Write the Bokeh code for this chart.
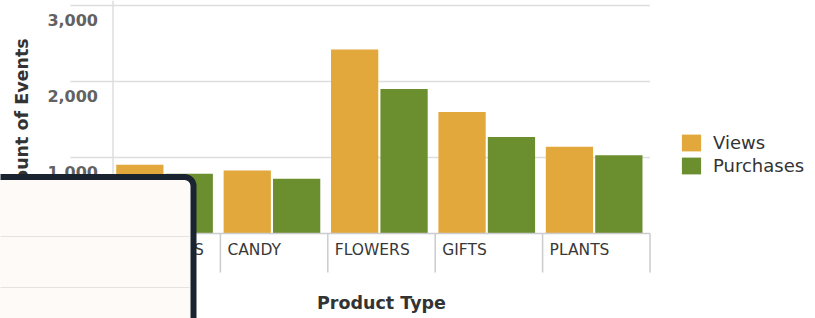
import numpy as np
from bokeh.plotting import figure
from bokeh.models import Range1d, BoxAnnotation, Legend, LegendItem
from bokeh.core.properties import value
from bokeh.embed import file_html
from bokeh.resources import INLINE

# ---- data ----
categories = ["BALLOONS", "CANDY", "FLOWERS", "GIFTS", "PLANTS"]
views = [905, 830, 2420, 1600, 1140]
purchases = [785, 720, 1900, 1270, 1030]
series_names = ["Views", "Purchases"]
y_ticks = [1000, 2000, 3000]
y_tick_labels = ["1,000", "2,000", "3,000"]
x_title = "Product Type"
y_title = "Count of Events"

# ---- layout calibration (pixels) ----
W, H = 815, 318
X0_PX, CAT_PX = 112.5, 107.4      # left edge of first category, width of one category
Y0_PX, PX_PER_UNIT = 233.0, 0.076  # baseline pixel, pixels per count
GRID_LEFT_PX, SEP_TICK_PX = 70.0, 39.0

ORANGE, GREEN = "#E2A83B", "#6B8E2F"
GRID, AXIS = "#dedede", "#cbcbd0"

x_range = Range1d(-X0_PX / CAT_PX, (W - X0_PX) / CAT_PX)
y_range = Range1d((Y0_PX - H) / PX_PER_UNIT, Y0_PX / PX_PER_UNIT)

p = figure(width=W, height=H, x_range=x_range, y_range=y_range,
           output_backend="svg", toolbar_location=None,
           x_axis_location=None, y_axis_location=None,
           min_border=0, outline_line_color=None)
p.grid.visible = False
p.background_fill_color = "white"
p.border_fill_color = "white"

idx = np.arange(len(categories))
n = len(categories)
grid_left = (GRID_LEFT_PX - X0_PX) / CAT_PX

# gridlines
p.segment(x0=[grid_left] * len(y_ticks), x1=[n] * len(y_ticks), y0=y_ticks, y1=y_ticks,
          line_color=GRID, line_width=1.5)
# y axis line
p.segment(x0=[0], x1=[0], y0=[0], y1=[y_range.end], line_color=GRID, line_width=1.5)

# bars
r_v = p.vbar(x=idx + 0.25, width=0.44, top=views, bottom=0, fill_color=ORANGE, line_color=None)
r_p = p.vbar(x=idx + 0.71, width=0.44, top=purchases, bottom=0, fill_color=GREEN, line_color=None)

# x axis line + category separators
p.segment(x0=[0], x1=[n], y0=[0], y1=[0], line_color=AXIS, line_width=1.5)
seps = np.arange(n + 1)
p.segment(x0=seps, x1=seps, y0=[0] * (n + 1), y1=[-SEP_TICK_PX / PX_PER_UNIT] * (n + 1),
          line_color=AXIS, line_width=1.5)

# category labels
p.text(x=idx, y=[0] * n, text=categories, x_offset=7, y_offset=16,
       text_font=value("DejaVu Sans"), text_font_size="15.5px", text_color="#383838",
       text_align="left", text_baseline="alphabetic")
# y tick labels
p.text(x=[0] * len(y_ticks), y=y_ticks, text=y_tick_labels, x_offset=-15, y_offset=14,
       text_font=value("DejaVu Sans"), text_font_size="16px", text_font_style="bold",
       text_color="#626262", text_align="right", text_baseline="alphabetic")
# axis titles
p.text(x=[n / 2], y=[0], text=[x_title], y_offset=69,
       text_font=value("DejaVu Sans"), text_font_size="17.5px", text_font_style="bold",
       text_color="#333333", text_align="center", text_baseline="alphabetic")
p.text(x=[0], y=[y_ticks[-1] / 2], text=[y_title], x_offset=-91, y_offset=-3, angle=np.pi / 2,
       text_font=value("DejaVu Sans"), text_font_size="17.5px", text_font_style="bold",
       text_color="#333333", text_align="center", text_baseline="alphabetic")

legend = Legend(items=[LegendItem(label=series_names[0], renderers=[r_v]),
                       LegendItem(label=series_names[1], renderers=[r_p])],
                location=(679, 142), padding=0, margin=0, spacing=2,
                glyph_width=24, glyph_height=21, label_height=21, label_standoff=10,
                label_text_font="DejaVu Sans", label_text_font_size="18px",
                label_text_color="#333333", border_line_color=None, background_fill_alpha=0)
p.add_layout(legend)

# overlapping panel in the foreground
p.add_layout(BoxAnnotation(left=-20, right=193, top=176.5, bottom=H + 20,
                           left_units="canvas", right_units="canvas",
                           top_units="canvas", bottom_units="canvas",
                           fill_color="#fdfaf7", fill_alpha=1.0,
                           line_color="#1a2430", line_alpha=1.0, line_width=6,
                           border_radius=9))
for ly in (236, 287):
    p.add_layout(BoxAnnotation(left=-20, right=189, top=ly - 0.5, bottom=ly + 0.5,
                               left_units="canvas", right_units="canvas",
                               top_units="canvas", bottom_units="canvas",
                               fill_color="#e6e2de", fill_alpha=1.0, line_color=None))

open("out.html", "w").write(file_html(p, INLINE))
